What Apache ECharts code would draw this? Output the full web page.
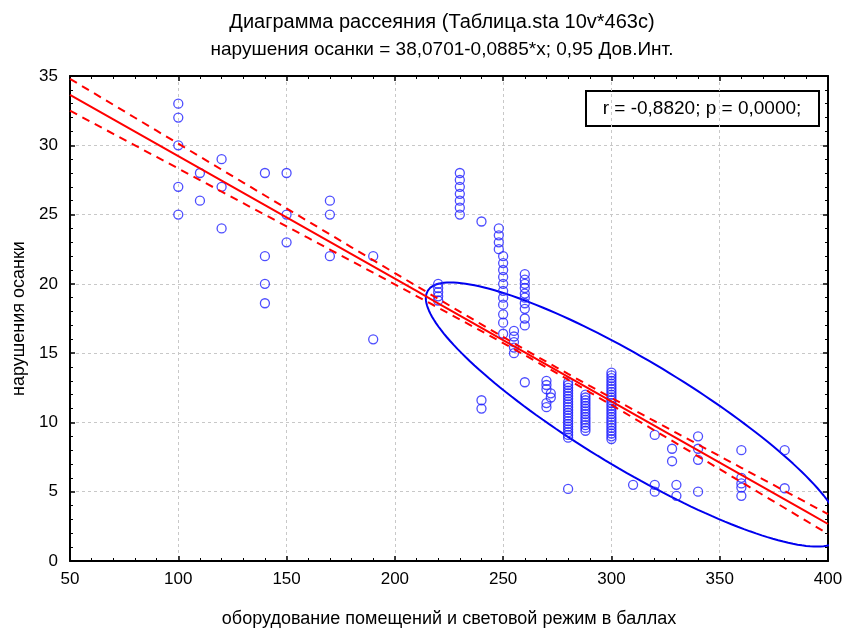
<!DOCTYPE html>
<html>
<head>
<meta charset="utf-8">
<script src="https://cdn.jsdelivr.net/npm/echarts@6/dist/echarts.min.js"></script>
<style>
  html, body { margin: 0; padding: 0; background: #fff; }
  #chart { width: 845px; height: 629px; }
</style>
</head>
<body>
<div id="chart"></div>
<script>
// точки: x - баллы оборудования, y - нарушения осанки
const xVals = [
  100, 100, 100, 100, 100,
  110, 110,
  120, 120, 120,
  140, 140, 140, 140,
  150, 150, 150,
  170, 170, 170,
  190, 190,
  220, 220, 220, 220, 220,
  230, 230, 230, 230, 230, 230, 230,
  240, 240, 240,
  248, 248, 248, 248,
  250, 250, 250, 250, 250, 250, 250, 250, 250, 250, 250,
  255, 255, 255, 255, 255,
  260, 260, 260, 260, 260, 260, 260, 260, 260, 260, 260,
  270, 270, 270, 270, 270,
  272, 272,
  280, 280, 280, 280, 280, 280, 280, 280, 280, 280, 280, 280, 280, 280, 280, 280, 280, 280, 280, 280, 280, 280,
  288, 288, 288, 288, 288, 288, 288, 288, 288, 288, 288, 288, 288, 288,
  300, 300, 300, 300, 300, 300, 300, 300, 300, 300, 300, 300, 300, 300, 300, 300, 300, 300, 300, 300, 300, 300, 300, 300, 300,
  310,
  320, 320, 320,
  328, 328,
  330, 330,
  340, 340, 340, 340,
  360, 360, 360, 360, 360,
  380, 380
];
const yVals = [
  33, 32, 30, 27, 25,
  28, 26,
  29, 27, 24,
  28, 22, 20, 18.6,
  28, 25, 23,
  26, 25, 22,
  22, 16,
  20, 19.7, 19.4, 19.1, 18.8,
  28, 27.5, 27, 26.5, 26, 25.5, 25,
  24.5, 11.6, 11,
  24, 23.5, 23, 22.5,
  22, 21.5, 21, 20.5, 20, 19.5, 19, 18.5, 17.8, 17.2, 16.4,
  16.6, 16.2, 15.8, 15.4, 15,
  20.7, 20.3, 20, 19.7, 19.3, 19, 18.6, 18.2, 17.5, 17, 12.9,
  13, 12.7, 12.4, 11.4, 11.1,
  12.1, 11.8,
  12.9, 12.7, 12.5, 12.3, 12.1, 11.9, 11.7, 11.5, 11.3, 11.1, 10.9, 10.7, 10.5, 10.3, 10.1, 9.9, 9.7, 9.5, 9.3, 9.1, 8.9, 5.2,
  12, 11.8, 11.6, 11.4, 11.2, 11, 10.8, 10.6, 10.4, 10.2, 10, 9.8, 9.6, 9.4,
  13.6, 13.4, 13.2, 13, 12.8, 12.6, 12.4, 12.2, 12, 11.8, 11.6, 11.4, 11.2, 11, 10.8, 10.6, 10.4, 10.2, 10, 9.8, 9.6, 9.4, 9.2, 9, 8.8,
  5.5,
  9.1, 5.5, 5,
  8.1, 7.2,
  5.5, 4.7,
  9, 8.1, 7.3, 5,
  8, 6, 5.6, 5.3, 4.7,
  8, 5.25
];

const xTicks = [50, 100, 150, 200, 250, 300, 350, 400];
const yTicks = [0, 5, 10, 15, 20, 25, 30, 35];

// регрессия из заголовка и 0,95 дов. интервал
const intercept = 38.0701;
const slope = -0.0885;
const bandX = [50, 60, 70, 80, 90, 100, 110, 120, 130, 140, 150, 160, 170, 180, 190, 200, 210, 220, 230, 240, 250,
  260, 270, 280, 290, 300, 310, 320, 330, 340, 350, 360, 370, 380, 390, 400];
const bandMeanX = 268;
const bandA = 0.2;
const bandB = 0.0052;

// эллипс
const ellCx = 310.3, ellCy = 10.57, ellAx = 96, ellXY = -8.4, ellH = 4.5;

const fit = (x) => intercept + slope * x;
const half = (x) => Math.sqrt(bandA * bandA + Math.pow(bandB * (x - bandMeanX), 2));

const points = xVals.map((x, i) => [x, yVals[i]]);
const regLine = bandX.map((x) => [x, fit(x)]);
const upper = bandX.map((x) => [x, fit(x) + half(x)]);
const lower = bandX.map((x) => [x, fit(x) - half(x)]);
const ellipse = [];
for (let k = 0; k <= 180; k++) {
  const t = (k / 180) * Math.PI * 2;
  ellipse.push([ellCx + ellAx * Math.cos(t), ellCy + ellXY * Math.cos(t) + ellH * Math.sin(t)]);
}

const font = "'Liberation Sans', Arial, sans-serif";
const blue = "#2020ff";
const red = "#ff0000";

function axisBase(show) {
  return {
    axisLine: { show: true, onZero: false, lineStyle: { color: "#000", width: 2 } },
    axisTick: { show: true, inside: true, length: 5, lineStyle: { color: "#000", width: 1.5 } },
    minorTick: { show: true, splitNumber: 5, length: 3, lineStyle: { color: "#000", width: 1 } },
    axisLabel: { show: show, color: "#000", fontSize: 18, fontFamily: font },
  };
}

const chart = echarts.init(document.getElementById("chart"));
chart.setOption({
  animation: false,
  backgroundColor: "#fff",
  title: {
    text: "Диаграмма рассеяния (Таблица.sta 10v*463c)",
    subtext: "нарушения осанки = 38,0701-0,0885*x; 0,95 Дов.Инт.",
    left: 437,
    textAlign: "center",
    top: 7,
    itemGap: 8,
    textStyle: { color: "#000", fontSize: 20, fontWeight: "normal", fontFamily: font },
    subtextStyle: { color: "#000", fontSize: 19, fontFamily: font },
  },
  grid: { left: 70, right: 17, top: 76, bottom: 68, outerBoundsMode: "none", containLabel: false },
  xAxis: [
    {
      type: "value",
      min: xTicks[0],
      max: xTicks[xTicks.length - 1],
      interval: xTicks[1] - xTicks[0],
      name: "оборудование помещений и световой режим в баллах",
      nameLocation: "middle",
      nameGap: 49,
      nameTextStyle: { color: "#000", fontSize: 18, fontFamily: font },
      splitLine: { show: true, lineStyle: { color: "#c8c8c8", type: [3, 3] } },
      ...axisBase(true),
      axisLabel: { color: "#000", fontSize: 17, fontFamily: font, margin: 10 },
    },
    {
      type: "value",
      position: "top",
      min: xTicks[0],
      max: xTicks[xTicks.length - 1],
      interval: xTicks[1] - xTicks[0],
      splitLine: { show: false },
      ...axisBase(false),
    },
  ],
  yAxis: [
    {
      type: "value",
      min: yTicks[0],
      max: yTicks[yTicks.length - 1],
      interval: yTicks[1] - yTicks[0],
      name: "нарушения осанки",
      nameLocation: "middle",
      nameGap: 42,
      nameTextStyle: { color: "#000", fontSize: 18, fontFamily: font },
      splitLine: { show: true, lineStyle: { color: "#c8c8c8", type: [3, 3] } },
      ...axisBase(true),
      axisLabel: { color: "#000", fontSize: 17, fontFamily: font, margin: 12 },
    },
    {
      type: "value",
      position: "right",
      min: yTicks[0],
      max: yTicks[yTicks.length - 1],
      interval: yTicks[1] - yTicks[0],
      splitLine: { show: false },
      ...axisBase(false),
    },
  ],
  series: [
    {
      type: "scatter",
      data: points,
      symbol: "circle",
      symbolSize: 9,
      itemStyle: { color: "transparent", borderColor: blue, borderWidth: 1.3 },
      z: 3,
    },
    {
      type: "line",
      data: ellipse,
      showSymbol: false,
      lineStyle: { color: "#0000ee", width: 2 },
      z: 2,
    },
    {
      type: "line",
      data: regLine,
      showSymbol: false,
      lineStyle: { color: red, width: 2 },
      z: 4,
    },
    {
      type: "line",
      data: upper,
      showSymbol: false,
      lineStyle: { color: red, width: 2, type: [8, 6] },
      z: 4,
    },
    {
      type: "line",
      data: lower,
      showSymbol: false,
      lineStyle: { color: red, width: 2, type: [8, 6] },
      z: 4,
    },
  ],
  graphic: [
    {
      type: "group",
      left: 585,
      top: 90,
      children: [
        { type: "rect", shape: { x: 0, y: 0, width: 233, height: 35 }, style: { fill: "#fff", stroke: "#000", lineWidth: 2 } },
        {
          type: "text",
          x: 116,
          y: 18,
          style: { text: "r = -0,8820; p = 0,0000;", fill: "#000", font: "19px " + font, align: "center", verticalAlign: "middle" },
        },
      ],
      z: 10,
    },
  ],
});
</script>
</body>
</html>
